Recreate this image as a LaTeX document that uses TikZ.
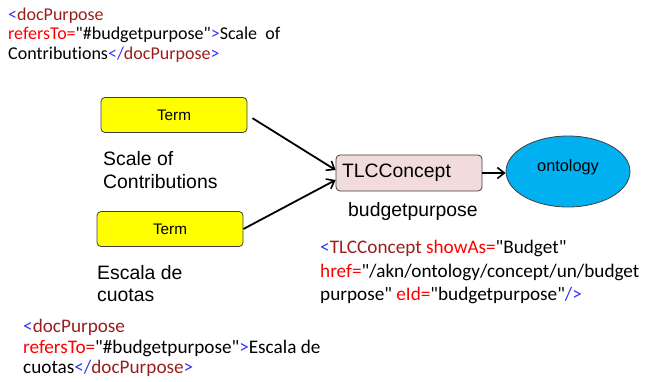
\documentclass[tikz,border=0pt]{standalone}
\usepackage{fontspec}
\setmainfont{Liberation Sans}
\newfontfamily\codefont[Ligatures=NoCommon]{Carlito}
\usetikzlibrary{arrows.meta,shapes.geometric,calc}
\definecolor{tagblue}{RGB}{51,51,255}
\definecolor{tagred}{RGB}{153,31,31}
\definecolor{attrred}{RGB}{255,0,0}
\definecolor{termyellow}{RGB}{255,255,0}
\definecolor{conceptpink}{RGB}{242,220,219}
\definecolor{ontoblue}{RGB}{0,176,240}
\definecolor{boxline}{RGB}{64,64,64}
\newcommand\Bl[1]{\textcolor{tagblue}{#1}}
\newcommand\Dr[1]{\textcolor{tagred}{#1}}
\newcommand\Rd[1]{\textcolor{attrred}{#1}}
\tikzset{
  codeA/.style={anchor=base west, inner sep=0pt, font=\codefont\fontsize{18}{20}\selectfont},
  codeB/.style={anchor=base west, inner sep=0pt, font=\codefont\fontsize{19.2}{22}\selectfont},
  lbl/.style={anchor=base west, inner sep=0pt, font=\fontsize{19.4}{22}\selectfont},
  termbox/.style={draw=boxline, fill=termyellow, rounded corners=4pt, line width=0.8pt,
    minimum width=146pt, minimum height=35pt, font=\fontsize{15.3}{17}\selectfont, inner sep=0pt},
  conceptbox/.style={draw=boxline, fill=conceptpink, rounded corners=4pt, line width=0.8pt,
    minimum width=146pt, minimum height=36pt, font=\fontsize{19.4}{22}\selectfont, inner sep=0pt},
  onto/.style={ellipse, draw=boxline, fill=ontoblue, line width=0.8pt,
    minimum width=124pt, minimum height=71pt, font=\fontsize{16.3}{18}\selectfont, inner sep=0pt},
  arr/.style={-{Straight Barb[length=7pt,width=11pt,line width=1.6pt]}, line width=1.8pt, black},
}
\begin{document}
\begin{tikzpicture}[x=1pt,y=-1pt]
\useasboundingbox (0,0) rectangle (647,382);
% top code
\node[codeA] (c1a) at (8,21) {\Bl{<}\Dr{docPurpose}};
\node[codeA] (c1b) at (8,40) {\Rd{refersTo=}"\#budgetpurpose"\Bl{>}Scale\ \ of};
\node[codeA] (c1c) at (8,60) {Contributions\Bl{</}\Dr{docPurpose}\Bl{>}};
% terms
\node[termbox] (t1) at (174,115) {Term};
\node[lbl] (l1a) at (103,166) {Scale of};
\node[lbl] (l1b) at (103,188) {Contributions};
\node[termbox] (t2) at (170,229) {Term};
\node[lbl] (l2a) at (97,279) {Escala de};
\node[lbl] (l2b) at (97,301) {cuotas};
% concept
\node[conceptbox, text width=134pt, align=left] (tlc) at (409,173) {TLCConcept};
\node[lbl] (bp) at (348,216) {budgetpurpose};
\node[onto] (ont) at (568,171.5) {\raisebox{12pt}{ontology}};
% arrows
\draw[arr, shorten <=6pt] (t1.east) -- ($(tlc.west)+(0,-3)$);
\draw[arr] (t2.east) -- ($(tlc.west)+(0,7)$);
\draw[arr] (tlc.east) -- (tlc.east -| ont.west);
% right code
\node[codeB] (c2a) at (320,253) {\Bl{<}\Dr{TLCConcept} \Rd{showAs=}"Budget"};
\node[codeB] (c2b) at (320,277) {\Rd{href=}"/akn/ontology/concept/un/budget};
\node[codeB] (c2c) at (320,300) {purpose" \Rd{eId=}"budgetpurpose"\Bl{/>}};
% bottom code
\node[codeB] (c3a) at (23,332) {\Bl{<}\Dr{docPurpose}};
\node[codeB] (c3b) at (23,353) {\Rd{refersTo=}"\#budgetpurpose"\Bl{>}Escala de};
\node[codeB] (c3c) at (23,373) {cuotas\Bl{</}\Dr{docPurpose}\Bl{>}};
\end{tikzpicture}
\end{document}
